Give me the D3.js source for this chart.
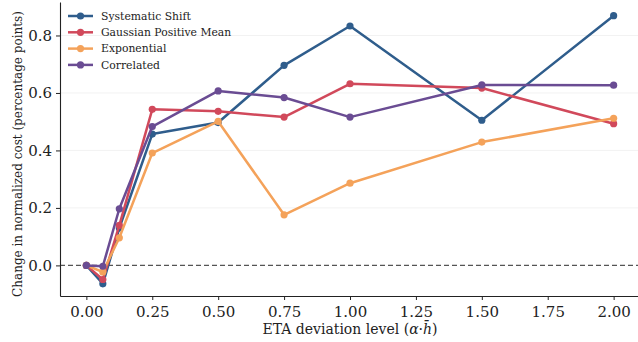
<!DOCTYPE html>
<html>
<head>
<meta charset="utf-8">
<script src="https://cdn.jsdelivr.net/npm/d3@7"></script>
<style>
  body { margin: 0; background: #fff; }
  svg text { font-family: "DejaVu Serif", "Liberation Serif", serif; }
</style>
</head>
<body>
<div id="chart"></div>
<script>
// Chart data
var levels = [0, 0.0625, 0.125, 0.25, 0.5, 0.75, 1.0, 1.5, 2.0];
var seriesNames = ["Systematic Shift", "Gaussian Positive Mean", "Exponential", "Correlated"];
var systematicShift = [0, -0.064, 0.13, 0.457, 0.497, 0.696, 0.833, 0.505, 0.869];
var gaussianPositive = [0, -0.049, 0.139, 0.543, 0.536, 0.516, 0.632, 0.617, 0.493];
var exponential = [0, -0.023, 0.096, 0.391, 0.501, 0.176, 0.286, 0.429, 0.512];
var correlated = [0, -0.003, 0.197, 0.483, 0.607, 0.584, 0.516, 0.628, 0.627];
var xTicks = [0, 0.25, 0.5, 0.75, 1.0, 1.25, 1.5, 1.75, 2.0];
var yTicks = [0, 0.2, 0.4, 0.6, 0.8];
var colors = ["#2f5d8c", "#d1495b", "#f4a25a", "#6a4c93"];

var width = 638, height = 342;
var margin = {top: 2, right: 0, bottom: 46, left: 60};
var serif = "DejaVu Serif";

var series = [systematicShift, gaussianPositive, exponential, correlated].map(function(vals, i) {
    return {name: seriesNames[i], color: colors[i], values: vals.map(function(v, j) { return {x: levels[j], y: v}; })};
});

var svg = d3.select("#chart").append("svg")
    .attr("width", width)
    .attr("height", height);

var x = d3.scaleLinear().domain([-0.1, 2.1]).range([margin.left, 640]);
var y = d3.scaleLinear().domain([-0.1065, 0.9165]).range([height - margin.bottom, margin.top]);

// Light grid
svg.append("g").selectAll("line")
    .data(yTicks.filter(d => d !== 0))
    .join("line")
    .attr("x1", margin.left).attr("x2", width)
    .attr("y1", d => y(d)).attr("y2", d => y(d))
    .attr("stroke", "#f2f2f2")
    .attr("stroke-width", 1);

// Zero reference line
svg.append("line")
    .attr("x1", margin.left).attr("x2", width)
    .attr("y1", y(0)).attr("y2", y(0))
    .attr("stroke", "#555")
    .attr("stroke-width", 1.2)
    .attr("stroke-dasharray", "5,3");

// Axes
var xAxis = svg.append("g")
    .attr("transform", "translate(0," + (height - margin.bottom) + ")")
    .call(d3.axisBottom(x).tickValues(xTicks).tickFormat(d3.format(".2f")).tickSize(4).tickSizeOuter(0));
var yAxis = svg.append("g")
    .attr("transform", "translate(" + margin.left + ",0)")
    .call(d3.axisLeft(y).tickValues(yTicks).tickFormat(d3.format(".1f")).tickSize(4).tickSizeOuter(0));

[xAxis, yAxis].forEach(function(ax) {
    ax.attr("font-family", serif).attr("font-size", 15);
    ax.select(".domain").attr("stroke", "#222").attr("stroke-width", 1.1);
    ax.selectAll(".tick line").attr("stroke", "#222");
    ax.selectAll(".tick text")
        .attr("fill", "#222")
        .attr("font-family", serif)
        .attr("font-size", 15);
});
xAxis.selectAll(".tick text").attr("dy", "0.92em");
yAxis.selectAll(".tick text").attr("x", -8);

// Axis labels
svg.append("text")
    .attr("x", 350).attr("y", 334)
    .attr("text-anchor", "middle")
    .attr("font-family", serif)
    .attr("font-size", 14)
    .attr("fill", "#222")
    .html("ETA deviation level (<tspan font-style='italic'>α</tspan>·<tspan font-style='italic'>h̄</tspan>)");

svg.append("text")
    .attr("transform", "translate(21.5,154) rotate(-90)")
    .attr("text-anchor", "middle")
    .attr("font-family", serif)
    .attr("font-size", 12)
    .attr("fill", "#222")
    .text("Change in normalized cost (percentage points)");

// Lines and markers
var line = d3.line().x(d => x(d.x)).y(d => y(d.y));

var groups = svg.append("g").selectAll("g")
    .data(series)
    .join("g");

groups.append("path")
    .attr("d", d => line(d.values))
    .attr("fill", "none")
    .attr("stroke", d => d.color)
    .attr("stroke-width", 2.5)
    .attr("stroke-linejoin", "round");

groups.selectAll("circle")
    .data(d => d.values.map(v => ({x: v.x, y: v.y, color: d.color})))
    .join("circle")
    .attr("cx", d => x(d.x))
    .attr("cy", d => y(d.y))
    .attr("r", 3.6)
    .attr("fill", d => d.color);

// Legend
var legend = svg.append("g").selectAll("g")
    .data(series)
    .join("g")
    .attr("transform", (d, i) => "translate(68," + (16 + i * 16.3) + ")");

legend.append("line")
    .attr("x1", 0).attr("x2", 25)
    .attr("stroke", d => d.color)
    .attr("stroke-width", 2.5);
legend.append("circle")
    .attr("cx", 12.5).attr("r", 3.6)
    .attr("fill", d => d.color);
legend.append("text")
    .attr("x", 33).attr("dy", "0.35em")
    .attr("font-family", serif)
    .attr("font-size", 10.8)
    .attr("fill", "#222")
    .text(d => d.name);
</script>
</body>
</html>
